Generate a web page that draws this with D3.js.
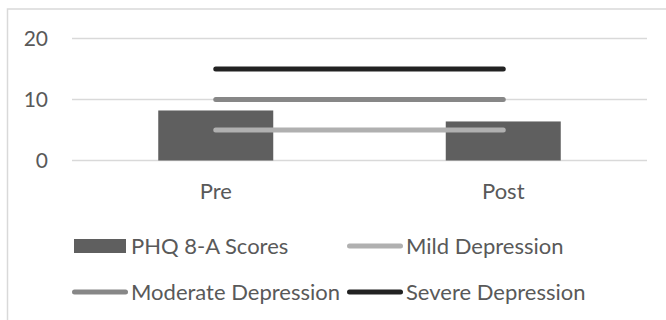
<!DOCTYPE html>
<html>
<head>
<meta charset="utf-8">
<script src="https://cdn.jsdelivr.net/npm/d3@7"></script>
<style>
  html, body { margin: 0; padding: 0; background: #fff; }
  svg { display: block; }
  text { font-family: Lato, "Open Sans", sans-serif; fill: #595959; }
</style>
</head>
<body>
<svg id="chart" width="666" height="320"></svg>
<script>
// Time points and PHQ 8-A scores
const categories = ["Pre", "Post"];
const scores = [8.2, 6.4];

// Severity thresholds, drawn as flat reference lines across both time points
const mildDepression = [5, 5];
const moderateDepression = [10, 10];
const severeDepression = [15, 15];

const yTicks = [0, 10, 20];

const svg = d3.select("#chart");

// Chart frame
svg.append("rect")
  .attr("x", 7.5).attr("y", 9)
  .attr("width", 660).attr("height", 400)
  .attr("fill", "none")
  .attr("stroke", "#d9d9d9")
  .attr("stroke-width", 1.5);

const plot = { left: 72, right: 647, top: 38.5, bottom: 160.5 };

const x = d3.scaleBand()
  .domain(categories)
  .range([plot.left, plot.right])
  .paddingInner(0).paddingOuter(0);

const y = d3.scaleLinear()
  .domain([0, 20])
  .range([plot.bottom, plot.top]);

// Gridlines
svg.append("g")
  .selectAll("line")
  .data(yTicks)
  .join("line")
  .attr("x1", plot.left).attr("x2", plot.right)
  .attr("y1", d => y(d)).attr("y2", d => y(d))
  .attr("stroke", "#d9d9d9")
  .attr("stroke-width", 1.5);

// Y axis labels
const yAxis = d3.axisLeft(y).tickValues(yTicks).tickSize(0).tickPadding(0);
const yg = svg.append("g")
  .attr("transform", `translate(${plot.left - 24},0)`)
  .call(yAxis);
yg.select(".domain").remove();
yg.selectAll("text")
  .attr("font-size", 21)
  .style("font-family", "Lato, 'Open Sans', sans-serif")
  .attr("fill", "#595959");

// X axis labels
const xAxis = d3.axisBottom(x).tickSize(0).tickPadding(0);
const xg = svg.append("g")
  .attr("transform", `translate(0,${plot.bottom + 23})`)
  .call(xAxis);
xg.select(".domain").remove();
xg.selectAll("text")
  .attr("font-size", 22)
  .style("font-family", "Lato, 'Open Sans', sans-serif")
  .attr("fill", "#595959");

// Bars
const barW = x.bandwidth() * 0.4;
svg.append("g")
  .selectAll("rect")
  .data(categories.map((c, i) => ({ c, v: scores[i] })))
  .join("rect")
  .attr("x", d => x(d.c) + (x.bandwidth() - barW) / 2)
  .attr("width", barW)
  .attr("y", d => y(d.v))
  .attr("height", d => y(0) - y(d.v))
  .attr("fill", "#5f5f5f");

// Threshold lines
const lineSeries = [
  { name: "Mild Depression", values: mildDepression, color: "#b0b0b0" },
  { name: "Moderate Depression", values: moderateDepression, color: "#878787" },
  { name: "Severe Depression", values: severeDepression, color: "#222222" }
];
const line = d3.line()
  .x((d, i) => x(categories[i]) + x.bandwidth() / 2)
  .y(d => y(d));
svg.append("g")
  .selectAll("path")
  .data(lineSeries)
  .join("path")
  .attr("d", d => line(d.values))
  .attr("fill", "none")
  .attr("stroke", d => d.color)
  .attr("stroke-width", 5)
  .attr("stroke-linecap", "round");

// Legend
const legendItems = [
  { name: "PHQ 8-A Scores", type: "bar", color: "#5f5f5f", col: 0, row: 0 },
  { name: "Mild Depression", type: "line", color: "#b0b0b0", col: 1, row: 0 },
  { name: "Moderate Depression", type: "line", color: "#878787", col: 0, row: 1 },
  { name: "Severe Depression", type: "line", color: "#222222", col: 1, row: 1 }
];
const colX = [72, 347];
const rowY = [246, 292];
const lg = svg.append("g")
  .selectAll("g")
  .data(legendItems)
  .join("g")
  .attr("transform", d => `translate(${colX[d.col]},${rowY[d.row]})`);
lg.filter(d => d.type === "bar")
  .append("rect")
  .attr("x", 2).attr("y", -7)
  .attr("width", 52).attr("height", 14)
  .attr("fill", d => d.color);
lg.filter(d => d.type === "line")
  .append("line")
  .attr("x1", 2.5).attr("x2", 53.5)
  .attr("y1", 0).attr("y2", 0)
  .attr("stroke", d => d.color)
  .attr("stroke-width", 5)
  .attr("stroke-linecap", "round");
lg.append("text")
  .attr("x", 59)
  .attr("y", 0)
  .attr("dy", "0.35em")
  .attr("font-size", 22)
  .text(d => d.name);
</script>
</body>
</html>
